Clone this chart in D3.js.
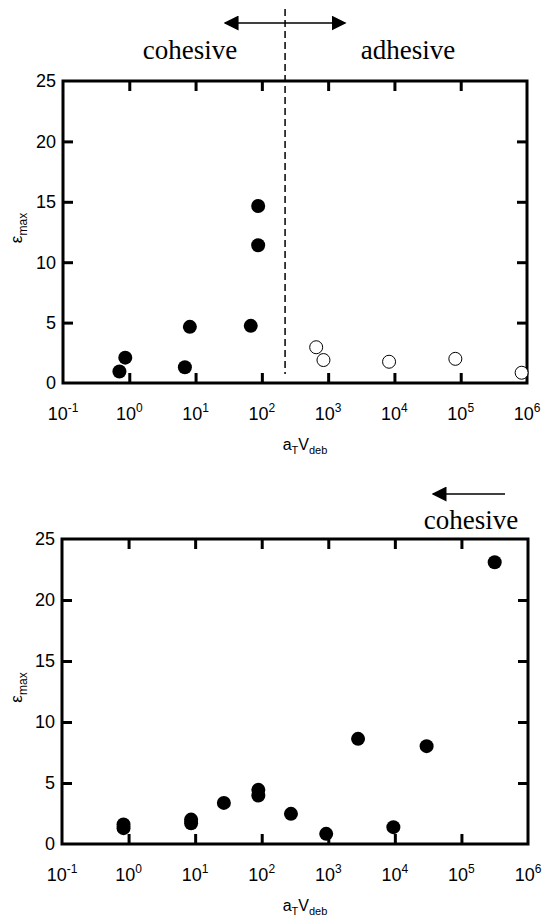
<!DOCTYPE html>
<html>
<head>
<meta charset="utf-8">
<script src="https://cdn.jsdelivr.net/npm/d3@7"></script>
<style>
  body { margin: 0; background: #fff; }
  svg { display: block; }
  .tick-label { font-family: "Liberation Sans", Arial, sans-serif; font-size: 18px; fill: #000; }
  .note { font-family: "Liberation Serif", "Times New Roman", serif; font-size: 27px; fill: #000; }
</style>
</head>
<body>
<script>
// top panel: filled = cohesive failure, open = adhesive failure
const topCohesiveV = [0.71, 0.87, 6.9, 8.2, 68, 88, 88];
const topCohesiveE = [0.95, 2.1, 1.3, 4.65, 4.73, 14.65, 11.4];
const topAdhesiveV = [660, 850, 8300, 83000, 830000];
const topAdhesiveE = [2.96, 1.9, 1.76, 2.0, 0.85];
const transitionV = 224;

// bottom panel: all cohesive
const bottomV = [0.84, 0.84, 8.7, 8.7, 27, 89, 89, 275, 930, 2800, 9500, 30000, 316000];
const bottomE = [1.3, 1.6, 1.7, 2.0, 3.37, 4.44, 3.98, 2.47, 0.83, 8.62, 1.38, 8.02, 23.1];

const xExponents = [-1, 0, 1, 2, 3, 4, 5, 6];
const yTicks = [0, 5, 10, 15, 20, 25];

const width = 548;
const height = 916;

const svg = d3.select("body").append("svg")
  .attr("width", width)
  .attr("height", height);

// arrow heads
const defs = svg.append("defs");
defs.append("marker")
  .attr("id", "head")
  .attr("viewBox", "0 0 10 10")
  .attr("refX", 9)
  .attr("refY", 5)
  .attr("markerUnits", "userSpaceOnUse")
  .attr("markerWidth", 15)
  .attr("markerHeight", 15)
  .attr("orient", "auto-start-reverse")
  .append("path")
  .attr("d", "M0,0L10,5L0,10Z")
  .attr("fill", "#000");

function drawPanel(box) {
  let x = d3.scaleLog().domain([0.1, 1e6]).range([box.left, box.right]);
  let y = d3.scaleLinear().domain([0, 25]).range([box.bottom, box.top]);
  let g = svg.append("g");

  // inside ticks on all four sides
  let inner = xExponents.slice(1, -1).map(e => Math.pow(10, e));
  g.append("g")
    .attr("transform", "translate(0," + box.bottom + ")")
    .call(d3.axisBottom(x).tickValues(inner).tickSize(-10).tickFormat(""));
  g.append("g")
    .attr("transform", "translate(0," + box.top + ")")
    .call(d3.axisTop(x).tickValues(inner).tickSize(-10).tickFormat(""));
  let innerY = yTicks.slice(1, -1);
  g.append("g")
    .attr("transform", "translate(" + box.left + ",0)")
    .call(d3.axisLeft(y).tickValues(innerY).tickSize(-10).tickFormat(""));
  g.append("g")
    .attr("transform", "translate(" + box.right + ",0)")
    .call(d3.axisRight(y).tickValues(innerY).tickSize(-10).tickFormat(""));
  g.selectAll(".domain").remove();
  g.selectAll(".tick line").attr("stroke", "#000").attr("stroke-width", 3);

  // frame
  g.append("rect")
    .attr("x", box.left)
    .attr("y", box.top)
    .attr("width", box.right - box.left)
    .attr("height", box.bottom - box.top)
    .attr("fill", "none")
    .attr("stroke", "#000")
    .attr("stroke-width", 3);

  // y labels
  g.selectAll(".ylab")
    .data(yTicks)
    .enter()
    .append("text")
    .attr("class", "tick-label")
    .attr("x", box.left - 7)
    .attr("y", d => y(d))
    .attr("dy", "0.36em")
    .attr("text-anchor", "end")
    .text(d => d);

  // x labels 10^n
  let xl = g.selectAll(".xlab")
    .data(xExponents)
    .enter()
    .append("text")
    .attr("class", "tick-label")
    .attr("x", d => x(Math.pow(10, d)))
    .attr("y", box.bottom + 37)
    .attr("text-anchor", "middle");
  xl.append("tspan").text("10");
  xl.append("tspan")
    .attr("dy", -8)
    .style("font-size", "12px")
    .text(d => d);

  // axis titles
  let xt = g.append("text")
    .attr("class", "tick-label")
    .attr("x", (box.left + box.right) / 2 + 10)
    .attr("y", box.bottom + 67)
    .attr("text-anchor", "middle")
    .style("font-size", "16px");
  xt.append("tspan").text("a");
  xt.append("tspan").attr("dy", 4).style("font-size", "11px").text("T");
  xt.append("tspan").attr("dy", -4).text("V");
  xt.append("tspan").attr("dy", 4).style("font-size", "11px").text("deb");

  let yt = g.append("text")
    .attr("class", "tick-label")
    .attr("transform", "translate(22," + ((box.top + box.bottom) / 2 - 4) + ")rotate(-90)")
    .attr("text-anchor", "middle")
    .style("font-size", "17px");
  yt.append("tspan").text("ε");
  yt.append("tspan").attr("dy", 5).style("font-size", "12px").text("max");

  return { x: x, y: y, g: g };
}

function drawDots(p, vs, es, filled) {
  p.g.selectAll(null)
    .data(vs)
    .enter()
    .append("circle")
    .attr("cx", d => p.x(d))
    .attr("cy", (d, i) => p.y(es[i]))
    .attr("r", filled ? 7 : 6.5)
    .attr("fill", filled ? "#000" : "#fff")
    .attr("stroke", "#000")
    .attr("stroke-width", filled ? 0 : 1);
}

// top panel
let topPanel = drawPanel({ left: 63, right: 527, top: 81, bottom: 383 });
drawDots(topPanel, topCohesiveV, topCohesiveE, true);
drawDots(topPanel, topAdhesiveV, topAdhesiveE, false);

let tx = topPanel.x(transitionV);
svg.append("line")
  .attr("x1", tx).attr("x2", tx)
  .attr("y1", 9).attr("y2", 374)
  .attr("stroke", "#000")
  .attr("stroke-width", 1.5)
  .attr("stroke-dasharray", "7,4");

svg.append("line")
  .attr("x1", tx - 60).attr("x2", tx + 60)
  .attr("y1", 23).attr("y2", 23)
  .attr("stroke", "#000")
  .attr("stroke-width", 1.5)
  .attr("marker-start", "url(#head)")
  .attr("marker-end", "url(#head)");

svg.append("text").attr("class", "note")
  .attr("x", 190).attr("y", 59)
  .attr("text-anchor", "middle")
  .text("cohesive");
svg.append("text").attr("class", "note")
  .attr("x", 408).attr("y", 59)
  .attr("text-anchor", "middle")
  .text("adhesive");

// bottom panel
let bottomPanel = drawPanel({ left: 62, right: 528, top: 539, bottom: 844 });
drawDots(bottomPanel, bottomV, bottomE, true);

svg.append("line")
  .attr("x1", 505).attr("x2", 433)
  .attr("y1", 494).attr("y2", 494)
  .attr("stroke", "#000")
  .attr("stroke-width", 1.5)
  .attr("marker-end", "url(#head)");

svg.append("text").attr("class", "note")
  .attr("x", 471).attr("y", 529)
  .attr("text-anchor", "middle")
  .text("cohesive");
</script>
</body>
</html>
